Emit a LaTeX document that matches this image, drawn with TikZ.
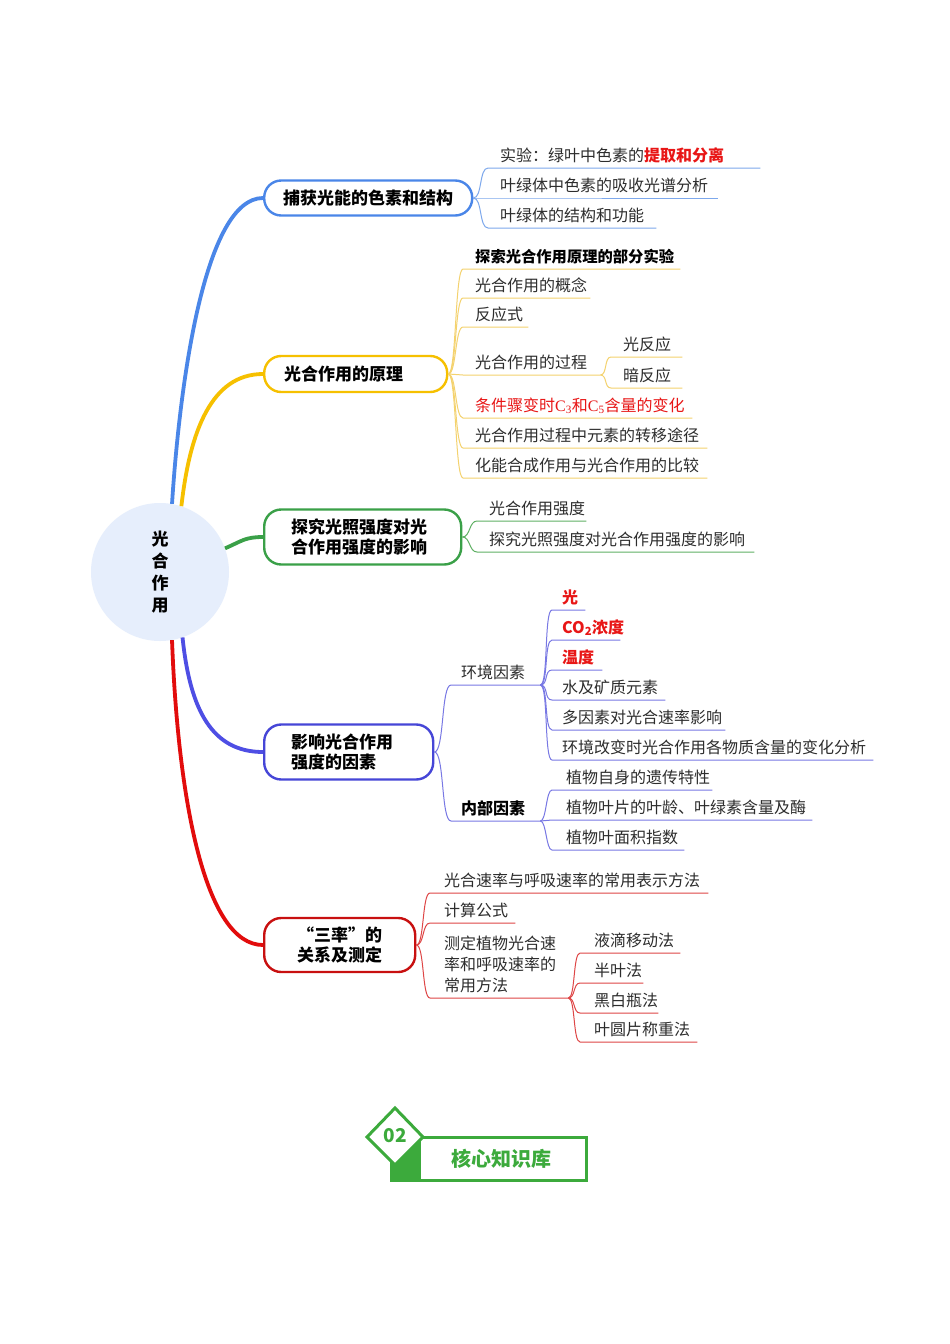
\documentclass[tikz,border=0pt]{standalone}
\usepackage{fontspec}
\newfontfamily\cjk{Noto Sans CJK SC}
\newfontfamily\tnr{Liberation Serif}
\usetikzlibrary{shapes.geometric}
\definecolor{cblue}{RGB}{74,134,232}
\definecolor{cbluel}{RGB}{125,168,236}
\definecolor{cgold}{RGB}{246,192,0}
\definecolor{cgoldl}{RGB}{244,210,110}
\definecolor{cgreen}{RGB}{58,160,72}
\definecolor{cgreenl}{RGB}{96,176,100}
\definecolor{cviol}{RGB}{78,78,228}
\definecolor{cviold}{RGB}{70,70,215}
\definecolor{cviolL}{RGB}{120,120,228}
\definecolor{cred}{RGB}{226,12,12}
\definecolor{credd}{RGB}{200,16,16}
\definecolor{credl}{RGB}{222,70,70}
\definecolor{ctext}{RGB}{45,45,45}
\definecolor{ctred}{RGB}{232,22,22}
\definecolor{rootfill}{RGB}{230,238,252}
\definecolor{logog}{RGB}{60,170,60}
\newcommand\leaffont{\cjk\fontsize{16}{21}\selectfont}
\newcommand\rdb[1]{\textcolor{ctred}{\bfseries #1}}
\begin{document}
\begin{tikzpicture}[x=1pt,y=-1pt,
  root/.style={circle, fill=rootfill, minimum size=138pt, inner sep=0pt, align=center,
    font=\cjk\bfseries\fontsize{17}{22}\selectfont},
  mainbox/.style={draw, fill=white, line width=2.4pt, rounded corners=17pt, anchor=west,
    inner ysep=0pt, font=\cjk\bfseries\fontsize{17}{20}\selectfont, text=black},
  trunk/.style={line width=3.8pt},
  leaf/.style={anchor=south west, inner xsep=0pt, inner ysep=6.5pt, text depth=0pt,
    align=left, font=\leaffont, text=ctext},
  l1/.style={draw=cbluel, line width=1pt},
  l2/.style={draw=cgoldl, line width=1pt},
  l3/.style={draw=cgreenl, line width=1pt},
  l4/.style={draw=cviolL, line width=1pt},
  l5/.style={draw=credl, line width=1pt},
  logo/.style={draw=logog, line width=3pt}
]
\useasboundingbox (0,0) rectangle (950,1344);
\fill[white] (0,0) rectangle (950,1344);

% root
\node[root] (root) at (160,572) {光\\合\\作\\用};

% main nodes
\node[mainbox, draw=cblue, minimum height=35pt, text width=170pt, inner xsep=19pt, align=center] (n1) at (263,198) {捕获光能的色素和结构};
\node[mainbox, draw=cgold, minimum height=36pt, text width=143pt, inner xsep=20pt, align=left] (n2) at (263,374) {光合作用的原理};
\node[mainbox, draw=cgreen, minimum height=55pt, text width=143pt, inner xsep=27pt, align=left] (n3) at (263,537) {探究光照强度对光\\合作用强度的影响};
\node[mainbox, draw=cviold, minimum height=55pt, text width=115pt, inner xsep=27pt, align=left] (n4) at (263,752) {影响光合作用\\强度的因素};
\node[mainbox, draw=credd, minimum height=54pt, text width=97pt, inner xsep=27pt, align=center] (n5) at (263,945) {“三率”的\\关系及测定};

% trunks
\draw[trunk, cblue] (root.80) .. controls (180,380) and (205,198) .. (n1.west);
\draw[trunk, cgold] (root.72) .. controls (190,430) and (212,374) .. (n2.west);
\draw[trunk, cgreen] (root.20) .. controls (242,541) and (245,537) .. (n3.west);
\draw[trunk, cviol] (root.-71) .. controls (190,710) and (212,752) .. (n4.west);
\draw[trunk, cred] (root.-80) .. controls (178,800) and (205,945) .. (n5.west);

% branch 1
\node[leaf, text width=260pt] (b1a) at (500,168) {实验：绿叶中色素的\rdb{提取和分离}};
\node[leaf, text width=218pt] (b1b) at (500,198) {叶绿体中色素的吸收光谱分析};
\node[leaf, text width=156pt] (b1c) at (500,228) {叶绿体的结构和功能};
\foreach \c in {b1a,b1b,b1c}
  \draw[l1] (n1.east) .. controls +(9,0) and +(-9,0) .. ([xshift=-12pt]\c.south west) -- (\c.south east);

% branch 2
\node[leaf, text width=205pt, font=\cjk\bfseries\fontsize{15.3}{20}\selectfont, text=black] (b2a) at (475,269) {探索光合作用原理的部分实验};
\node[leaf, text width=115pt] (b2b) at (475,298) {光合作用的概念};
\node[leaf, text width=53pt] (b2c) at (475,327) {反应式};
\node[leaf, text width=125pt] (b2d) at (475,375) {光合作用的过程};
\node[leaf, text width=217pt, text=ctred] (b2e) at (475,418) {条件骤变时{\tnr C\textsubscript{3}}和{\tnr C\textsubscript{5}}含量的变化};
\node[leaf, text width=232pt] (b2f) at (475,448) {光合作用过程中元素的转移途径};
\node[leaf, text width=232pt] (b2g) at (475,478) {化能合成作用与光合作用的比较};
\foreach \c in {b2a,b2b,b2c,b2d,b2e,b2f,b2g}
  \draw[l2] (n2.east) .. controls +(8,0) and +(-8,0) .. ([xshift=-12pt]\c.south west) -- (\c.south east);
\node[leaf, text width=59pt] (b2d1) at (623,357) {光反应};
\node[leaf, text width=59pt] (b2d2) at (623,388) {暗反应};
\foreach \c in {b2d1,b2d2}
  \draw[l2] (b2d.south east) .. controls +(7,0) and +(-7,0) .. ([xshift=-12pt]\c.south west) -- (\c.south east);

% branch 3
\node[leaf, text width=97pt] (b3a) at (489,521) {光合作用强度};
\node[leaf, text width=265pt] (b3b) at (489,552) {探究光照强度对光合作用强度的影响};
\foreach \c in {b3a,b3b}
  \draw[l3] (n3.east) .. controls +(8,0) and +(-8,0) .. ([xshift=-12pt]\c.south west) -- (\c.south east);

% branch 4
\node[leaf, text width=79pt] (b4a) at (461,685) {环境因素};
\node[leaf, text width=79pt, font=\cjk\bfseries\fontsize{16}{21}\selectfont, text=black] (b4b) at (461,821) {内部因素};
\foreach \c in {b4a,b4b}
  \draw[l4] (n4.east) .. controls +(10,0) and +(-10,0) .. ([xshift=-10pt]\c.south west) -- (\c.south east);
\node[leaf, text width=23pt, text=ctred, font=\cjk\bfseries\fontsize{16}{21}\selectfont] (e1) at (562,610) {光};
\node[leaf, text width=58pt, text=ctred, font=\cjk\bfseries\fontsize{16}{21}\selectfont] (e2) at (562,640) {CO\textsubscript{2}浓度};
\node[leaf, text width=40pt, text=ctred, font=\cjk\bfseries\fontsize{16}{21}\selectfont] (e3) at (562,670) {温度};
\node[leaf, text width=103pt] (e4) at (562,700) {水及矿质元素};
\node[leaf, text width=163pt] (e5) at (562,730) {多因素对光合速率影响};
\node[leaf, text width=311pt] (e6) at (562,760) {环境改变时光合作用各物质含量的变化分析};
\foreach \c in {e1,e2,e3,e4,e5,e6}
  \draw[l4] (b4a.south east) .. controls +(8,0) and +(-8,0) .. ([xshift=-10pt]\c.south west) -- (\c.south east);
\node[leaf, text width=146pt] (i1) at (566,790) {植物自身的遗传特性};
\node[leaf, text width=246pt] (i2) at (566,820) {植物叶片的叶龄、叶绿素含量及酶};
\node[leaf, text width=118pt] (i3) at (566,850) {植物叶面积指数};
\foreach \c in {i1,i2,i3}
  \draw[l4] (b4b.south east) .. controls +(6,0) and +(-6,0) .. ([xshift=-14pt]\c.south west) -- (\c.south east);

% branch 5
\node[leaf, text width=264pt] (b5a) at (444,893) {光合速率与呼吸速率的常用表示方法};
\node[leaf, text width=71pt] (b5b) at (444,923) {计算公式};
\node[leaf, text width=124pt, text depth=42pt] (b5c) at (444,998) {测定植物光合速\\率和呼吸速率的\\常用方法};
\foreach \c in {b5a,b5b,b5c}
  \draw[l5] (n5.east) .. controls +(8,0) and +(-8,0) .. ([xshift=-14pt]\c.south west) -- (\c.south east);
\node[leaf, text width=86pt] (m1) at (594,953) {液滴移动法};
\node[leaf, text width=49pt] (m2) at (594,983) {半叶法};
\node[leaf, text width=64pt] (m3) at (594,1013) {黑白瓶法};
\node[leaf, text width=103pt] (m4) at (594,1042) {叶圆片称重法};
\foreach \c in {m1,m2,m3,m4}
  \draw[l5] (b5c.south east) .. controls +(7,0) and +(-7,0) .. ([xshift=-14pt]\c.south west) -- (\c.south east);

% logo
\draw[logo] (391,1137) rectangle (586,1180);
\fill[logog] (391,1137) rectangle (421,1180);
\draw[logo, fill=white, line join=miter] (395,1108) -- (423,1137) -- (395,1165) -- (367,1137) -- cycle;
\node[font=\cjk\bfseries\fontsize{19}{19}\selectfont, text=logog] (num) at (395,1136) {02};
\node[font=\cjk\bfseries\fontsize{20}{20}\selectfont, text=logog] (lib) at (501,1159) {核心知识库};
\end{tikzpicture}
\end{document}
